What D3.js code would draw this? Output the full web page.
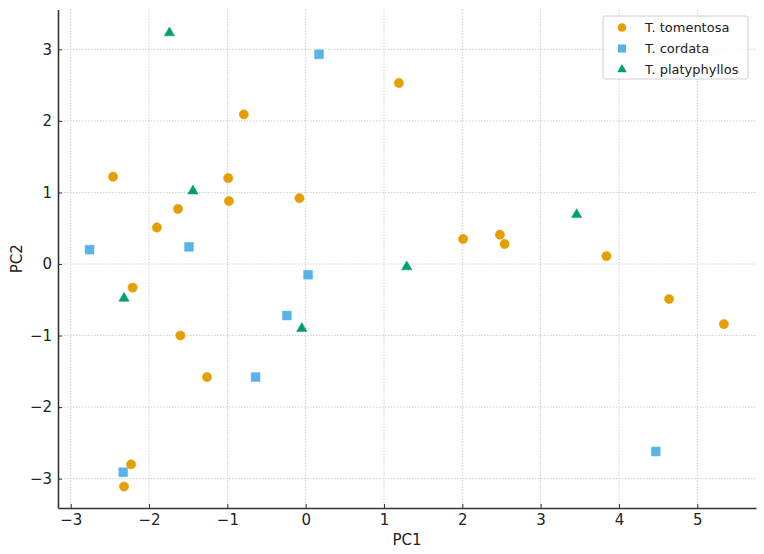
<!DOCTYPE html>
<html>
<head>
<meta charset="utf-8">
<script src="https://cdn.jsdelivr.net/npm/d3@7"></script>
<style>
  body { margin: 0; background: #fff; }
  text { font-family: "DejaVu Sans", sans-serif; fill: #222; }
</style>
</head>
<body>
<script>
// species scores on the first two principal components
var tomentosaX = [-0.79, -2.46, -0.99, -0.98, -1.63, -1.90, 1.19, -0.08, 2.01, 2.48, 2.54, 3.84, -2.21, -1.60, -1.26, -2.23, -2.32, 4.64, 5.34];
var tomentosaY = [2.09, 1.22, 1.20, 0.88, 0.77, 0.51, 2.53, 0.92, 0.35, 0.41, 0.28, 0.11, -0.33, -1.00, -1.58, -2.80, -3.11, -0.49, -0.84];
var cordataX = [-2.76, -1.49, 0.17, 0.03, -0.24, -0.64, -2.33, 4.47];
var cordataY = [0.20, 0.24, 2.93, -0.15, -0.72, -1.58, -2.91, -2.62];
var platyX = [-1.74, -1.44, 1.29, 3.46, -2.32, -0.05];
var platyY = [3.23, 1.02, -0.04, 0.69, -0.48, -0.90];

var xTicks = [-3, -2, -1, 0, 1, 2, 3, 4, 5];
var yTicks = [-3, -2, -1, 0, 1, 2, 3];

var series = [
  {name: "T. tomentosa", xs: tomentosaX, ys: tomentosaY, color: "#E69F00", shape: d3.symbolCircle, size: 68},
  {name: "T. cordata", xs: cordataX, ys: cordataY, color: "#56B4E9", shape: d3.symbolSquare, size: 78},
  {name: "T. platyphyllos", xs: platyX, ys: platyY, color: "#009E73", shape: d3.symbolTriangle, size: 46}
];

var W = 764, H = 554;
var margin = {top: 9.5, right: 8, bottom: 46, left: 58};
var width = W - margin.left - margin.right,
    height = H - margin.top - margin.bottom;

var svg = d3.select("body").append("svg")
            .attr("width", W)
            .attr("height", H);

var g = svg.append("g")
           .attr("transform", "translate(" + margin.left + "," + margin.top + ")");

var xScale = d3.scaleLinear().domain([-3.163, 5.75]).range([0, width]);
var yScale = d3.scaleLinear().domain([-3.41, 3.557]).range([height, 0]);

var fmt = d3.format("d");

// grid
g.append("g").selectAll("line")
 .data(xTicks).enter().append("line")
 .attr("x1", function(d) { return xScale(d); })
 .attr("x2", function(d) { return xScale(d); })
 .attr("y1", 0).attr("y2", height)
 .style("stroke", "#c4c4c4").style("stroke-width", 0.8)
 .style("stroke-dasharray", "1.5,1.5");

g.append("g").selectAll("line")
 .data(yTicks).enter().append("line")
 .attr("y1", function(d) { return yScale(d); })
 .attr("y2", function(d) { return yScale(d); })
 .attr("x1", 0).attr("x2", width)
 .style("stroke", "#c4c4c4").style("stroke-width", 0.8)
 .style("stroke-dasharray", "1.5,1.5");

// axes, ticks pointing inwards
var xAxis = d3.axisBottom(xScale).tickValues(xTicks).tickFormat(fmt)
              .tickSize(-4).tickPadding(6).tickSizeOuter(0);
var yAxis = d3.axisLeft(yScale).tickValues(yTicks).tickFormat(fmt)
              .tickSize(-4).tickPadding(6).tickSizeOuter(0);

var gx = g.append("g")
          .attr("transform", "translate(0," + height + ")")
          .call(xAxis);
var gy = g.append("g").call(yAxis);

[gx, gy].forEach(function(a) {
  a.select(".domain").style("stroke", "#333").style("stroke-width", 1.6);
  a.selectAll(".tick line").style("stroke", "#333").style("stroke-width", 1);
  a.selectAll(".tick text").style("font-size", "15px").style("fill", "#222");
});

// points
series.forEach(function(s) {
  var sym = d3.symbol().type(s.shape).size(s.size);
  g.append("g").selectAll("path")
   .data(s.xs).enter().append("path")
   .attr("d", sym)
   .attr("transform", function(d, i) {
     return "translate(" + xScale(d) + "," + yScale(s.ys[i]) + ")";
   })
   .style("fill", s.color)
   .style("stroke", s.color)
   .style("stroke-opacity", 0.5)
   .style("stroke-width", 1);
});

// axis labels
svg.append("text")
   .attr("x", margin.left + width / 2)
   .attr("y", 545)
   .attr("text-anchor", "middle")
   .style("font-size", "15px")
   .text("PC1");

svg.append("text")
   .attr("transform", "translate(22," + (margin.top + height / 2) + ") rotate(-90)")
   .attr("text-anchor", "middle")
   .style("font-size", "15px")
   .text("PC2");

// legend
var legend = svg.append("g").attr("transform", "translate(603,16)");
legend.append("rect")
      .attr("width", 145).attr("height", 63)
      .attr("rx", 2)
      .style("fill", "white").style("fill-opacity", 0.85)
      .style("stroke", "#d0d0d0").style("stroke-width", 1);

var items = legend.selectAll(".item")
                  .data(series).enter().append("g")
                  .attr("class", "item")
                  .attr("transform", function(d, i) { return "translate(0," + (11.5 + i * 21) + ")"; });

items.append("path")
     .attr("d", function(d) { return d3.symbol().type(d.shape).size(d.size * 0.85)(); })
     .attr("transform", "translate(19,0)")
     .style("fill", function(d) { return d.color; });

items.append("text")
     .attr("x", 42)
     .attr("dy", "0.36em")
     .style("font-size", "13px")
     .text(function(d) { return d.name; });
</script>
</body>
</html>
